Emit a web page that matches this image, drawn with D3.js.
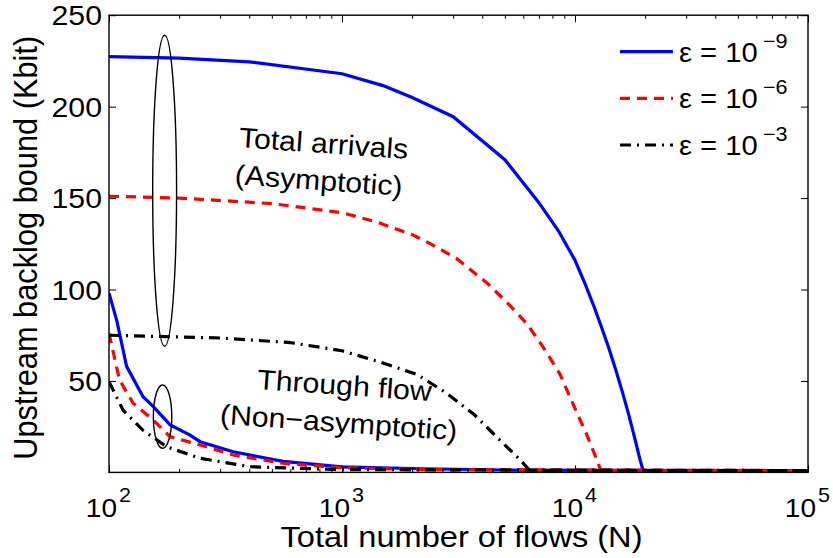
<!DOCTYPE html>
<html><head><meta charset="utf-8">
<script src="https://cdn.jsdelivr.net/npm/d3@7"></script>
<style>
body{margin:0;background:#fff}
svg{display:block}
text{font-family:"Liberation Sans",Arial,Helvetica,sans-serif;fill:#000}
</style>
</head><body>
<svg id="chart" width="833" height="558"></svg>
<script>
// ---------------- data ----------------
const xTickValues = [100, 1000, 10000, 100000];
const xTickExponents = ["2", "3", "4", "5"];
const yTickValues = [50, 100, 150, 200, 250];
const legendBase = ["ε = 10", "ε = 10", "ε = 10"];
const legendExponents = ["−9", "−6", "−3"];

// Total arrivals (asymptotic)
const asymN_e9 = [100, 200, 400, 1000, 1500, 2000, 3000, 5000, 7000, 8500, 10000, 11000, 12000, 13000, 14000, 15000, 16000, 17000, 18000, 19000, 19600, 100000];
const asymB_e9 = [227.3, 226.5, 224.5, 218, 211.5, 205, 194.5, 171, 147.5, 132, 116, 103.7, 91.5, 79.4, 67.6, 55.6, 43.6, 31.6, 19.3, 7.1, 1, 1];
const asymN_e6 = [100, 200, 500, 1000, 1400, 2000, 2400, 3100, 4200, 5100, 6200, 7300, 8600, 10000, 11200, 12400, 12900, 100000];
const asymB_e6 = [151, 150, 147, 142, 137, 130, 125, 117, 103.5, 93, 81.5, 68.5, 54, 35, 21, 7, 1, 1];
const asymN_e3 = [100, 300, 600, 1000, 1400, 1700, 2100, 2800, 3700, 4600, 5800, 6400, 100000];
const asymB_e3 = [75, 73.5, 71, 66.5, 61, 57.5, 53.5, 43.5, 31.5, 19.5, 7, 1, 1];

// Through flow (non-asymptotic)
const thrN_e9 = [100, 108, 119, 140, 155, 183, 223, 246, 341, 558, 1000, 2200, 5000, 100000];
const thrB_e9 = [98, 83, 58, 41.4, 36, 26, 20.4, 16.8, 11.3, 6, 3, 2, 1.3, 1];
const thrN_e6 = [100, 111, 127, 155, 183, 246, 341, 558, 1000, 2200, 100000];
const thrB_e6 = [76, 50.5, 37.8, 28.6, 19.5, 15, 9.5, 5, 2.6, 1.5, 1];
const thrN_e3 = [100, 115, 140, 177, 246, 403, 1000, 100000];
const thrB_e3 = [49.6, 34, 23, 14, 7.7, 3.1, 1.5, 1];

// annotation ellipses (data coordinates: N range, value range)
const ellipseN = [[154, 195], [155, 186]];
const ellipseB = [[69, 239], [13.2, 47.8]];
const annotationLines = [["Total arrivals", "(Asymptotic)"], ["Through flow", "(Non−asymptotic)"]];

// ---------------- chart ----------------
const L = 109, R = 808, T = 15.2, B = 472.4;
const SX = 1.08; // horizontal text stretch
const svg = d3.select("#chart");
const x = d3.scaleLog().domain([100, 100000]).range([L, R]);
const y = d3.scaleLinear().domain([0, 250]).range([B, T]);

const colors = ["#0000ff", "#ff0000", "#000000"];
const dashes = [null, "10,7", "11,6,2,6"];
const series = [
  {asymN: asymN_e9, asymB: asymB_e9, thrN: thrN_e9, thrB: thrB_e9},
  {asymN: asymN_e6, asymB: asymB_e6, thrN: thrN_e6, thrB: thrB_e6},
  {asymN: asymN_e3, asymB: asymB_e3, thrN: thrN_e3, thrB: thrB_e3}
];

svg.append("defs").append("clipPath").attr("id", "clip")
  .append("rect").attr("x", L).attr("y", T).attr("width", R - L).attr("height", B - T);

// axes (ticks inward)
const majorX = xTickValues;
const minorX = [];
[100, 1000, 10000].forEach(d => { for (let k = 2; k <= 9; k++) minorX.push(d * k); });

function tickStyle(g) {
  g.select(".domain").remove();
  g.selectAll("line").attr("stroke", "#000").attr("stroke-width", 1);
  g.selectAll("text").remove();
}
svg.append("g").attr("transform", `translate(0,${B})`)
  .call(d3.axisBottom(x).tickValues(majorX).tickSize(-7).tickFormat("")).call(tickStyle);
svg.append("g").attr("transform", `translate(0,${B})`)
  .call(d3.axisBottom(x).tickValues(minorX).tickSize(-3.5).tickFormat("")).call(tickStyle);
svg.append("g").attr("transform", `translate(0,${T})`)
  .call(d3.axisTop(x).tickValues(majorX).tickSize(-7).tickFormat("")).call(tickStyle);
svg.append("g").attr("transform", `translate(0,${T})`)
  .call(d3.axisTop(x).tickValues(minorX).tickSize(-3.5).tickFormat("")).call(tickStyle);
svg.append("g").attr("transform", `translate(${L},0)`)
  .call(d3.axisLeft(y).tickValues(yTickValues).tickSize(-7).tickFormat("")).call(tickStyle);
svg.append("g").attr("transform", `translate(${R},0)`)
  .call(d3.axisRight(y).tickValues(yTickValues).tickSize(-7).tickFormat("")).call(tickStyle);

// y tick labels
yTickValues.forEach(v => {
  svg.append("text")
    .attr("transform", `translate(${L - 7},${y(v) + 10}) scale(${SX},1)`)
    .attr("text-anchor", "end").attr("font-size", 28).text(v);
});
// x tick labels 10^k
xTickValues.forEach((v, i) => {
  const g = svg.append("g").attr("transform", `translate(${x(v)},0)`);
  g.append("text").attr("transform", `translate(8,517) scale(${SX},1)`)
    .attr("text-anchor", "end").attr("font-size", 26).text("10");
  g.append("text").attr("transform", `translate(10,502) scale(${SX},1)`)
    .attr("font-size", 20).text(xTickExponents[i]);
});

// axis labels
svg.append("text").attr("transform", `translate(${(L + R) / 2 + 3},547)`)
  .attr("text-anchor", "middle").attr("font-size", 30)
  .attr("textLength", 362).attr("lengthAdjust", "spacingAndGlyphs")
  .text("Total number of flows (N)");
svg.append("text").attr("transform", `translate(37,${(T + B) / 2 + 4}) scale(${SX},1) rotate(-90)`)
  .attr("text-anchor", "middle").attr("font-size", 30)
  .attr("textLength", 424).attr("lengthAdjust", "spacingAndGlyphs")
  .text("Upstream backlog bound (Kbit)");

// lines
const line = d3.line().x(d => x(d[0])).y(d => y(d[1]));
const plot = svg.append("g").attr("clip-path", "url(#clip)");
series.forEach((s, i) => {
  [[s.asymN, s.asymB], [s.thrN, s.thrB]].forEach(([ns, bs]) => {
    plot.append("path").datum(ns.map((n, j) => [n, bs[j]]))
      .attr("d", line).attr("fill", "none")
      .attr("stroke", colors[i]).attr("stroke-width", 3.2)
      .attr("stroke-dasharray", dashes[i]);
  });
});

// ellipses
ellipseN.forEach((nr, i) => {
  const x0 = x(nr[0]), x1 = x(nr[1]);
  const y0 = y(ellipseB[i][1]), y1 = y(ellipseB[i][0]);
  svg.append("ellipse").attr("cx", (x0 + x1) / 2).attr("cy", (y0 + y1) / 2)
    .attr("rx", (x1 - x0) / 2).attr("ry", (y1 - y0) / 2)
    .attr("fill", "none").attr("stroke", "#000").attr("stroke-width", 1.4);
});

// annotation texts
const annPos = [[[323, 153], [318, 190]], [[344, 395], [338, 432]]];
annotationLines.forEach((lines, i) => {
  lines.forEach((t, j) => {
    svg.append("text")
      .attr("transform", `translate(${annPos[i][j][0]},${annPos[i][j][1]}) rotate(4) scale(${SX},1)`)
      .attr("text-anchor", "middle").attr("font-size", 28).text(t);
  });
});

// frame
svg.append("rect").attr("x", L).attr("y", T).attr("width", R - L).attr("height", B - T)
  .attr("fill", "none").attr("stroke", "#000").attr("stroke-width", 1.4);

// legend
const legRows = [51.7, 98.3, 145];
legendBase.forEach((t, i) => {
  svg.append("line").attr("x1", 620).attr("x2", 673).attr("y1", legRows[i]).attr("y2", legRows[i])
    .attr("stroke", colors[i]).attr("stroke-width", 3.2).attr("stroke-dasharray", dashes[i]);
  svg.append("text").attr("transform", `translate(679,${legRows[i] + 10}) scale(${SX},1)`)
    .attr("font-size", 27).text(t);
  svg.append("text").attr("transform", `translate(763,${legRows[i] - 4}) scale(${SX},1)`)
    .attr("font-size", 20).text(legendExponents[i]);
});
</script>
</body></html>
